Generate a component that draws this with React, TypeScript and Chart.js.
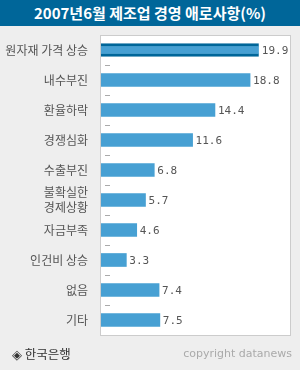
import React, { useEffect, useRef } from "react";
import { Chart, registerables } from "chart.js";
Chart.register(...registerables);

const titleText = "2007년6월 제조업 경영 애로사항(%)";
const categories: (string | string[])[] = [
  "원자재 가격 상승",
  "내수부진",
  "환율하락",
  "경쟁심화",
  "수출부진",
  ["불확실한", "경제상황"],
  "자금부족",
  "인건비 상승",
  "없음",
  "기타",
];
const values = [19.9, 18.8, 14.4, 11.6, 6.8, 5.7, 4.6, 3.3, 7.4, 7.5];
const sourceText = "◈ 한국은행";
const copyrightText = "copyright datanews";

const BAR = "#47a0d3";
const DARK = "#006699";

export default function App() {
  const ref = useRef<HTMLCanvasElement | null>(null);
  useEffect(() => {
    document.body.style.margin = "0";
    const canvas = ref.current!;
    const panel = {
      id: "panel",
      beforeDraw(chart: any) {
        const { ctx, chartArea: a } = chart;
        ctx.save();
        ctx.fillStyle = "#ffffff";
        ctx.fillRect(a.left, a.top, a.right - a.left, a.bottom - a.top);
        ctx.restore();
      },
      afterDatasetsDraw(chart: any) {
        const { ctx, chartArea: a } = chart;
        const ys = chart.scales.y;
        ctx.save();
        // boundary ticks
        ctx.fillStyle = "#aaaaaa";
        for (let i = 0; i < categories.length - 1; i++) {
          const y = Math.round((ys.getPixelForValue(i) + ys.getPixelForValue(i + 1)) / 2);
          ctx.fillRect(a.left + 5, y, 5, 1);
        }
        // frame
        ctx.fillStyle = "#cccccc";
        ctx.fillRect(a.left, a.top, 1, a.bottom - a.top + 1);
        ctx.fillRect(a.left, a.top, a.right - a.left, 1);
        ctx.fillRect(a.right, a.top, 1, a.bottom - a.top + 1);
        ctx.fillRect(a.left, a.bottom, a.right - a.left + 1, 1);
        // value labels
        const meta = chart.getDatasetMeta(0);
        ctx.fillStyle = "#555555";
        ctx.font = "11px 'DejaVu Sans Mono', monospace";
        ctx.textBaseline = "middle";
        ctx.textAlign = "left";
        meta.data.forEach((bar: any, i: number) => {
          ctx.fillText(values[i].toFixed(1), bar.x + 3, bar.y + 1);
        });
        ctx.restore();
      },
    };
    const chart = new Chart(canvas, {
      type: "bar",
      data: {
        labels: categories as any,
        datasets: [
          {
            data: values,
            backgroundColor: BAR,
            borderColor: values.map((_, i) => (i === 0 ? DARK : BAR)),
            borderWidth: values.map((_, i) =>
              i === 0 ? { top: 3, bottom: 3, left: 0, right: 0 } : 0
            ) as any,
            borderSkipped: false,
            barThickness: 13,
          },
        ],
      },
      options: {
        indexAxis: "y",
        animation: false,
        responsive: false,
        devicePixelRatio: 1,
        layout: { padding: { top: 35, bottom: 35, left: 0, right: 10 } },
        plugins: { legend: { display: false }, tooltip: { enabled: false }, title: { display: false } },
        scales: {
          x: { display: false, min: 0, max: 23.8 },
          y: {
            afterFit: (s: any) => {
              s.width = 100;
            },
            grid: { display: false },
            border: { display: false },
            ticks: {
              autoSkip: false,
              color: "#555555",
              padding: 4,
              font: { family: "'Noto Sans CJK KR', sans-serif", size: 12, lineHeight: 1.3 },
            },
          },
        },
      },
      plugins: [panel],
    });
    return () => chart.destroy();
  }, []);

  return (
    <div style={{ position: "relative", width: 300, height: 370, background: "#eeeeee", overflow: "hidden" }}>
      <canvas ref={ref} width={300} height={370} style={{ position: "absolute", left: 0, top: 0, width: 300, height: 370 }} />
      <div
        style={{
          position: "absolute",
          left: 0,
          top: 0,
          width: 300,
          height: 26,
          background: DARK,
          color: "#ffffff",
          font: "bold 15px 'Noto Sans CJK KR', sans-serif",
          lineHeight: "26px",
          textAlign: "center",
          whiteSpace: "nowrap",
        }}
      >
        {titleText}
      </div>
      <div
        style={{
          position: "absolute",
          left: 12,
          top: 345,
          color: "#333333",
          font: "12.5px 'Noto Sans CJK KR', sans-serif",
          lineHeight: "18px",
          whiteSpace: "nowrap",
        }}
      >
        {sourceText}
      </div>
      <div
        style={{
          position: "absolute",
          right: 8,
          top: 346,
          color: "#aaaaaa",
          font: "11px 'DejaVu Sans', sans-serif",
          lineHeight: "16px",
          whiteSpace: "nowrap",
        }}
      >
        {copyrightText}
      </div>
    </div>
  );
}
